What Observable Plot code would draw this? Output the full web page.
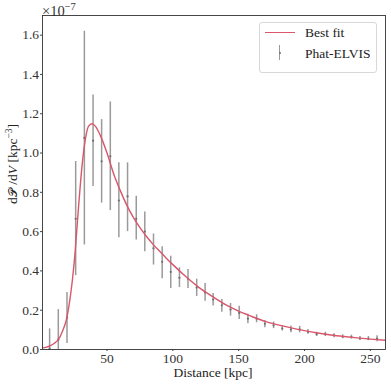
<!DOCTYPE html>
<html><head><meta charset="utf-8">
<script src="https://cdn.jsdelivr.net/npm/d3@7"></script>
<script src="https://cdn.jsdelivr.net/npm/@observablehq/plot@0.6"></script>
<style>
body{margin:0;background:#fff;}
#wrap{position:relative;width:391px;height:385px;font-family:"Liberation Serif",serif;color:#222;overflow:hidden;}
#wrap svg{position:absolute;left:0;top:0;}
.txt{position:absolute;white-space:nowrap;font-size:13.5px;line-height:1;}
sup{font-size:9.5px;vertical-align:5px;line-height:0;}
.cal{font-family:"DejaVu Sans",serif;font-style:normal;margin:0 3px 0 0.5px;font-size:12px;}
#legend{position:absolute;left:259px;top:22px;width:118px;height:51px;border:1px solid #d8d8d8;border-radius:3px;background:rgba(255,255,255,0.85);box-sizing:border-box;}
</style></head><body>
<div id="wrap"></div>
<script>
// Phat-ELVIS binned data (units of 1e-7 kpc^-3)
const distance = [6.4, 13.0, 19.6, 26.2, 32.8, 39.4, 45.9, 52.5, 59.0, 65.6, 72.2, 78.7, 85.3, 91.9, 98.4, 105.0, 111.5, 118.1, 124.5, 130.6, 137.2, 143.8, 150.4, 157.0, 163.6, 169.9, 176.5, 183.1, 189.7, 196.3, 202.6, 209.2, 215.8, 222.4, 229.0, 235.6, 242.1, 248.5, 255.1];
const density  = [0.005, 0.05, 0.162, 0.665, 1.077, 1.063, 0.958, 0.983, 0.758, 0.779, 0.665, 0.60, 0.515, 0.446, 0.395, 0.365, 0.36, 0.315, 0.29, 0.254, 0.225, 0.203, 0.186, 0.157, 0.157, 0.131, 0.123, 0.107, 0.102, 0.102, 0.089, 0.078, 0.078, 0.072, 0.065, 0.063, 0.056, 0.055, 0.055];
const lower    = [-0.09, -0.10, 0.03, 0.376, 0.532, 0.83, 0.745, 0.707, 0.569, 0.60, 0.557, 0.497, 0.43, 0.36, 0.31, 0.315, 0.31, 0.27, 0.245, 0.221, 0.19, 0.17, 0.153, 0.131, 0.136, 0.111, 0.106, 0.094, 0.085, 0.085, 0.077, 0.066, 0.066, 0.06, 0.055, 0.053, 0.046, 0.045, 0.039];
const upper    = [0.105, 0.203, 0.29, 0.957, 1.62, 1.295, 1.17, 1.26, 0.95, 0.95, 0.78, 0.70, 0.588, 0.523, 0.475, 0.416, 0.407, 0.358, 0.336, 0.285, 0.254, 0.234, 0.22, 0.179, 0.177, 0.148, 0.14, 0.121, 0.119, 0.118, 0.102, 0.088, 0.088, 0.08, 0.075, 0.073, 0.066, 0.066, 0.07];

// Best-fit curve
const fitX = [1, 4, 7, 10, 13, 16, 19.6, 21.5, 23.4, 25.9, 28.4, 31, 33.5, 36, 38.6, 41.1, 44.9, 50, 55, 60, 65, 70, 75, 80, 85, 90, 95, 100, 110, 120, 130, 140, 150, 160, 170, 180, 190, 200, 210, 220, 230, 240, 250, 261.5];
const fitY = [0.008, 0.012, 0.02, 0.032, 0.05, 0.09, 0.165, 0.24, 0.336, 0.506, 0.728, 0.932, 1.068, 1.137, 1.149, 1.137, 1.09, 1.0, 0.895, 0.81, 0.735, 0.672, 0.62, 0.575, 0.535, 0.5, 0.465, 0.432, 0.37, 0.315, 0.27, 0.228, 0.195, 0.168, 0.143, 0.125, 0.11, 0.096, 0.084, 0.074, 0.066, 0.059, 0.053, 0.047];

const xTicks = [50, 100, 150, 200, 250];
const yTicks = [0, 0.2, 0.4, 0.6, 0.8, 1.0, 1.2, 1.4, 1.6];

const points = distance.map((d, i) => ({x: d, y: density[i], lo: lower[i], hi: upper[i]}));
const fit = fitX.map((d, i) => ({x: d, y: fitY[i]}));

const fitColor = "#d9566b";
const barColor = "#9a9a9a";

const chart = Plot.plot({
  width: 391, height: 385,
  marginTop: 15, marginRight: 6, marginBottom: 36, marginLeft: 42,
  style: {fontFamily: "Liberation Serif, serif", fontSize: "13.5px", color: "#333", background: "transparent"},
  x: {domain: [1, 261.5]},
  y: {domain: [0, 1.7]},
  marks: [
    Plot.ruleX(points, {x: "x", y1: "lo", y2: "hi", stroke: barColor, strokeWidth: 1.5, clip: true}),
    Plot.dot(points, {x: "x", y: "y", r: 1.1, fill: "#6f6f6f", stroke: null}),
    Plot.line(fit, {x: "x", y: "y", stroke: fitColor, strokeWidth: 1.4, curve: "monotone-x", clip: true}),
    Plot.axisX({ticks: xTicks, tickSize: 2, tickPadding: 2, label: null, tickFormat: d => String(d), stroke: "#444"}),
    Plot.axisY({ticks: yTicks, tickSize: 2, tickPadding: 1.5, label: null, tickFormat: d => d.toFixed(1), stroke: "#444"}),
    Plot.frame({stroke: "#333", strokeWidth: 0.9})
  ]
});

const wrap = document.getElementById("wrap");
wrap.appendChild(chart);

function addText(html, css) {
  const d = document.createElement("div");
  d.className = "txt";
  d.innerHTML = html;
  Object.assign(d.style, css);
  wrap.appendChild(d);
  return d;
}
// exponent
addText("×10<sup style=\"font-size:10.5px;vertical-align:6px\">−7</sup>", {left: "42px", top: "4px", fontSize: "14.5px", color: "#333"});
// x title
const xt = addText("Distance [kpc]", {left: "213px", top: "366px"});
xt.style.transform = "translateX(-50%)";
// y title
const yt = addText("d<span class=\"cal\">𝒫</span>/d<i>V</i> [kpc<sup>−3</sup>]", {left: "13px", top: "164px"});
yt.style.transform = "translate(-50%,-50%) rotate(-90deg)";

// legend
const lg = document.createElement("div");
lg.id = "legend";
lg.innerHTML = `
  <div style="position:absolute;left:5px;top:9px;width:30px;height:1.4px;background:${fitColor}"></div>
  <div class="txt" style="left:45px;top:3px">Best fit</div>
  <div style="position:absolute;left:19px;top:22px;width:1.3px;height:15px;background:${barColor}"></div>
  <div style="position:absolute;left:18.6px;top:28.6px;width:2.2px;height:2.2px;border-radius:50%;background:#6f6f6f"></div>
  <div class="txt" style="left:45px;top:24px">Phat-ELVIS</div>`;
wrap.appendChild(lg);
</script>
</body></html>
